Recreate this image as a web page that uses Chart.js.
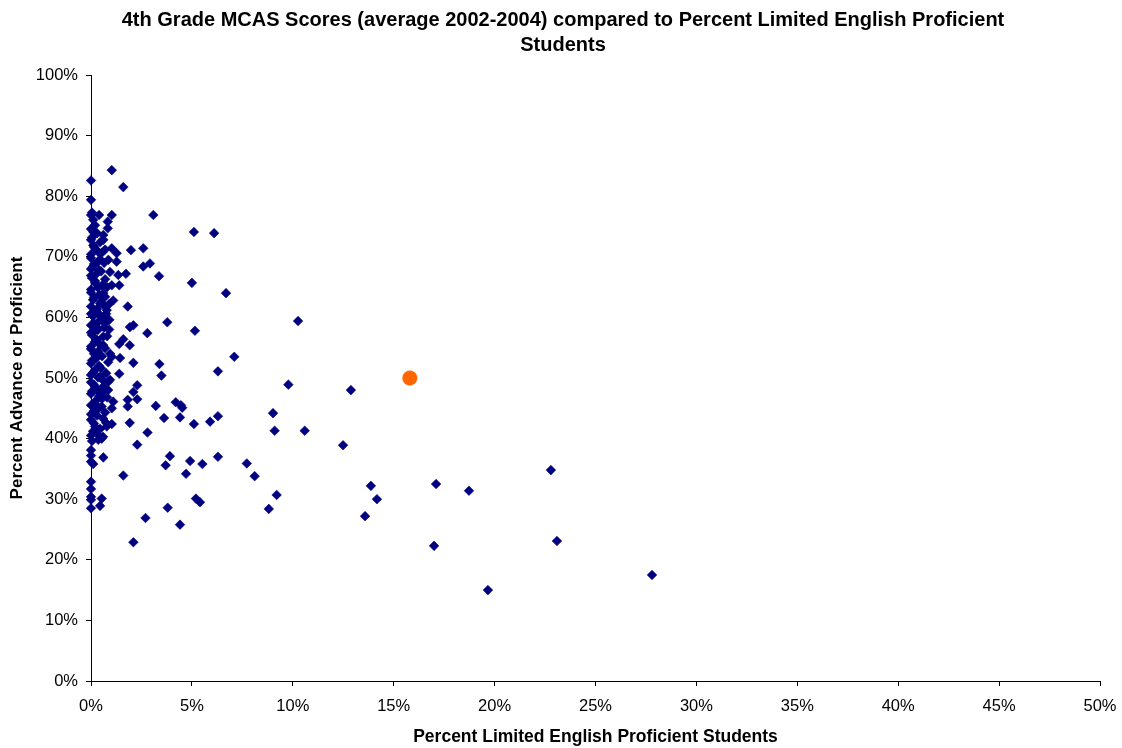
<!DOCTYPE html>
<html>
<head>
<meta charset="utf-8">
<script src="https://cdn.jsdelivr.net/npm/chart.js@4/dist/chart.umd.min.js"></script>
<style>
  html, body { margin: 0; padding: 0; background: #fff; }
  #wrap { width: 1122px; height: 748px; }
</style>
</head>
<body>
<div id="wrap"><canvas id="mcasChart" width="1122" height="748"></canvas></div>
<script>
// ── DATA ── percent LEP students (x) vs percent advanced/proficient (y)
const lepPct = [
  1.03, 1.60, 3.09, 5.10, 6.10, 2.59, 1.98, 2.92, 2.59, 3.37,
  5.00, 6.69, 10.26, 3.78, 5.15, 2.79, 7.10, 3.39, 6.29, 3.49,
  9.78, 12.88, 4.20, 3.21, 4.46, 4.52, 3.62, 4.41, 5.10, 5.90,
  6.29, 9.02, 9.10, 10.59, 2.80, 2.29, 12.49, 3.91, 6.29, 7.72,
  4.91, 3.70, 5.52, 4.71, 8.11, 13.87, 17.10, 22.79, 18.73, 9.20,
  14.17, 5.20, 5.40, 1.60, 3.80, 8.81, 13.58, 2.70, 4.41, 2.10,
  17.00, 23.09, 19.67, 27.80,
  2.10, 1.92, 2.29, 2.10, 2.29, 1.82, 1.82, 1.92, 1.93, 2.10,
  1.60, 1.40, 1.44, 1.40, 1.82, 1.10, 1.03, 1.40, 1.73, 1.35,
  0.94, 1.27, 1.27, 1.03, 0.86, 1.03, 0.83, 0.83, 0.61, 0.61,
  0.40, 0.11, 0.00, 0.00, 0.00, 1.03, 0.94, 0.86, 1.10, 1.03,
  1.03, 0.78, 0.91, 0.78, 0.61, 0.69, 0.61, 0.53, 0.53, 0.53,
  0.36, 0.61, 0.11, 0.53, 0.45, 0.00, 0.00, 0.00, 0.00, 0.00,
  0.00, 0.00, 0.00, 0.45, 0.36, 0.33, 0.45, 0.61, 0.36, 0.40,
  0.11, 0.11, 0.00,
  0.00, 0.10, 0.20, 0.00, 0.30, 0.15, 0.00, 0.25, 0.40, 0.05,
  0.20, 0.00, 0.35, 0.10, 0.50, 0.00, 0.25, 0.15, 0.00, 0.45,
  0.30, 0.05, 0.20, 0.00, 0.40, 0.10, 0.25, 0.00, 0.50, 0.15,
  0.00, 0.35, 0.20, 0.05, 0.30, 0.00, 0.15, 0.45, 0.00, 0.25,
  0.05, 0.30, 0.45, 0.15, 0.60, 0.00, 0.35, 0.20, 0.55, 0.00,
  0.30, 0.15, 0.60, 0.00, 0.20, 0.40, 0.05, 0.55, 0.35, 0.00,
  0.20, 0.60, 0.00, 0.35, 0.15, 0.55, 0.00, 0.30, 0.60, 0.10,
  0.40, 0.00, 0.55, 0.20, 0.00, 0.50, 0.10, 0.35, 0.00, 0.55,
  0.15, 0.45, 0.05, 0.30, 0.00, 0.20, 0.05,
  0.70, 0.80, 0.65, 0.75, 0.85, 0.70, 0.80, 0.65, 0.75, 0.90,
  0.70, 0.80, 0.70, 0.85, 0.95, 0.90, 0.75, 0.60, 0.70, 0.65
];
const advProfPct = [
  84.3, 81.5, 76.9, 74.1, 73.9, 71.4, 71.1, 68.9, 68.4, 66.8,
  65.7, 64.0, 59.4, 59.2, 57.8, 57.4, 53.5, 52.3, 51.1, 50.4,
  48.9, 48.0, 46.0, 45.4, 45.5, 45.1, 43.4, 43.5, 42.4, 42.8,
  43.7, 44.2, 41.3, 41.3, 41.0, 39.0, 38.9, 37.1, 37.0, 35.9,
  36.3, 35.6, 35.8, 34.2, 33.8, 32.2, 32.5, 34.8, 31.4, 30.7,
  30.0, 30.1, 29.5, 33.9, 28.6, 28.4, 27.2, 26.9, 25.8, 22.9,
  22.3, 23.1, 15.0, 17.5,
  52.5, 55.4, 48.8, 47.7, 46.5, 46.4, 45.3, 42.6, 58.4, 58.7,
  56.4, 55.6, 53.3, 50.7, 61.8, 62.8, 65.3, 65.3, 67.2, 67.0,
  67.5, 70.6, 69.2, 71.4, 69.5, 76.9, 75.8, 74.7, 73.6, 72.8,
  76.9, 76.1, 76.9, 79.4, 82.6, 53.5, 49.7, 49.4, 46.1, 45.0,
  42.4, 42.0, 59.6, 61.2, 64.0, 59.0, 55.4, 47.5, 45.3, 40.0,
  39.8, 36.9, 35.8, 30.1, 28.9, 28.5, 29.9, 30.4, 31.7, 32.9,
  38.1, 37.2, 36.2, 62.3, 60.7, 57.9, 50.2, 48.6, 70.8, 67.8,
  71.9, 74.1, 72.8,
  40.5, 41.2, 42.0, 43.1, 43.8, 44.6, 45.5, 46.3, 47.0, 47.8,
  48.5, 49.3, 50.1, 50.9, 51.6, 52.4, 53.2, 54.0, 54.8, 55.5,
  56.3, 57.1, 57.9, 58.7, 59.4, 60.2, 61.0, 61.8, 62.6, 63.3,
  64.1, 64.9, 65.7, 66.5, 67.3, 68.0, 68.8, 69.6, 70.4, 71.2,
  39.6, 40.8, 41.6, 42.5, 43.3, 44.0, 44.9, 45.8, 46.6, 47.4,
  48.0, 48.9, 49.6, 50.5, 51.3, 52.0, 52.9, 53.6, 54.4, 55.2,
  56.0, 56.8, 57.5, 58.2, 59.0, 59.9, 60.6, 61.4, 62.1, 62.9,
  63.7, 64.6, 65.3, 66.0, 66.9, 67.6, 68.4, 69.2, 69.8, 70.7,
  71.6, 72.4, 73.2, 73.9, 74.6, 75.2, 77.3,
  44.3, 46.8, 48.2, 50.8, 52.6, 54.9, 56.9, 58.3, 60.6, 62.2,
  63.4, 65.0, 66.3, 48.0, 54.0, 58.0, 42.6, 40.3, 71.2, 69.0
];

// the highlighted district (orange dot)
const highlightLep = [15.8];
const highlightAdvProf = [50.0];

const xTicks = [0, 5, 10, 15, 20, 25, 30, 35, 40, 45, 50];
const yTicks = [0, 10, 20, 30, 40, 50, 60, 70, 80, 90, 100];

const FONT = "'Liberation Sans', Arial, sans-serif";

function toPoints(xs, ys) {
  return xs.map((x, i) => ({ x: x, y: ys[i] }));
}

// Title centred on the whole page like the original, not on the padded box
const centerTitle = {
  id: 'centerTitle',
  afterLayout(chart) {
    if (chart.titleBlock) {
      chart.titleBlock.left = 0;
      chart.titleBlock.right = chart.width + 4;
    }
  }
};

new Chart(document.getElementById('mcasChart'), {
  type: 'scatter',
  data: {
    datasets: [
      {
        label: 'Districts',
        data: toPoints(lepPct, advProfPct),
        pointStyle: 'rectRot',
        pointRadius: 4.8,
        pointBorderWidth: 0.6,
        backgroundColor: '#000080',
        borderColor: '#000080',
        clip: false,
      },
      {
        label: 'Highlighted district',
        data: toPoints(highlightLep, highlightAdvProf),
        pointStyle: 'circle',
        pointRadius: 7.3,
        pointBorderWidth: 0.5,
        backgroundColor: '#ff6600',
        borderColor: '#ff6600',
        clip: false,
      }
    ]
  },
  options: {
    responsive: false,
    animation: false,
    layout: { padding: { left: 0, right: 22, top: 0, bottom: 0 } },
    plugins: {
      legend: { display: false },
      tooltip: { enabled: false },
      title: {
        display: true,
        text: ['4th Grade MCAS Scores (average 2002-2004) compared to Percent Limited English Proficient', 'Students'],
        color: '#000',
        font: { family: FONT, size: 20, weight: 'bold', lineHeight: 1.25 },
        padding: { top: 8, bottom: 17 }
      }
    },
    scales: {
      x: {
        type: 'linear',
        min: 0,
        max: 50,
        afterBuildTicks: (scale) => { scale.ticks = xTicks.map(v => ({ value: v })); },
        afterFit: (scale) => {
          scale.height = 67;
          scale.paddingLeft = 0;
          scale.paddingRight = 0;
        },
        ticks: {
          color: '#000',
          padding: 11,
          maxRotation: 0,
          font: { family: FONT, size: 16.5 },
          callback: (v) => v + '%'
        },
        grid: { drawOnChartArea: false, drawTicks: true, tickLength: 5, color: '#000', tickColor: '#000' },
        border: { display: true, color: '#000', width: 1 },
        title: {
          display: true,
          text: 'Percent Limited English Proficient Students',
          color: '#000',
          font: { family: FONT, size: 17.5, weight: 'bold' },
          padding: { top: 0, bottom: 0 }
        }
      },
      y: {
        type: 'linear',
        min: 0,
        max: 100,
        afterBuildTicks: (scale) => { scale.ticks = yTicks.map(v => ({ value: v })); },
        afterFit: (scale) => { scale.width = 91; },
        ticks: {
          color: '#000',
          padding: 8,
          font: { family: FONT, size: 16.5 },
          callback: (v) => v + '%'
        },
        grid: { drawOnChartArea: false, drawTicks: true, tickLength: 5, color: '#000', tickColor: '#000' },
        border: { display: true, color: '#000', width: 1 },
        title: {
          display: true,
          text: 'Percent Advance or Proficient',
          color: '#000',
          font: { family: FONT, size: 17, weight: 'bold' },
          padding: { top: 7, bottom: 0 }
        }
      }
    }
  },
  plugins: [centerTitle]
});
</script>
</body>
</html>
